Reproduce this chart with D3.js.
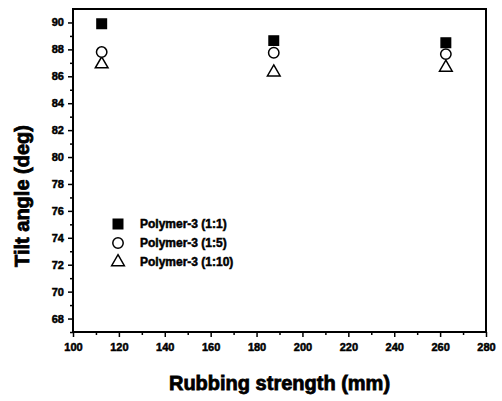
<!DOCTYPE html>
<html>
<head>
<meta charset="utf-8">
<script src="https://cdn.jsdelivr.net/npm/d3@7"></script>
<style>
  body { margin: 0; background: #fff; }
  text { font-family: "Liberation Sans", Arial, sans-serif; font-weight: bold; }
</style>
</head>
<body>
<svg width="502" height="401"></svg>
<script>
// data
var rubbing = [112.5, 187.5, 262.5];
var ratio11 = [89.9, 88.65, 88.5];
var ratio15 = [87.8, 87.75, 87.65];
var ratio110 = [86.9, 86.3, 86.65];
var seriesNames = ['Polymer-3 (1:1)', 'Polymer-3 (1:5)', 'Polymer-3 (1:10)'];
var xTicks = [100, 120, 140, 160, 180, 200, 220, 240, 260, 280];
var yTicks = [68, 70, 72, 74, 76, 78, 80, 82, 84, 86, 88, 90];

var svg = d3.select("svg");
// plot box (window.top is reserved, so use other names)
var pLeft = 73, pRight = 486, pTop = 9, pBottom = 332;

var x = d3.scaleLinear().domain([100, 280]).range([pLeft, pRight]);
var y = d3.scaleLinear().domain([67, 91]).range([pBottom, pTop]);

// minor ticks
var xMinor = d3.range(110, 280, 20);
var yMinor = d3.range(67, 91, 2);

svg.append("g").attr("transform", "translate(0," + pBottom + ")")
    .call(d3.axisBottom(x).tickValues(xMinor).tickSize(3).tickFormat(""))
    .call(g => g.select(".domain").remove());
svg.append("g").attr("transform", "translate(" + pLeft + ",0)")
    .call(d3.axisLeft(y).tickValues(yMinor).tickSize(3).tickFormat(""))
    .call(g => g.select(".domain").remove());

var xAxis = svg.append("g").attr("transform", "translate(0," + pBottom + ")")
    .call(d3.axisBottom(x).tickValues(xTicks).tickSize(5).tickPadding(6));
var yAxis = svg.append("g").attr("transform", "translate(" + pLeft + ",0)")
    .call(d3.axisLeft(y).tickValues(yTicks).tickSize(5).tickPadding(4));

[xAxis, yAxis].forEach(function(g) {
    g.selectAll("text").style("font-size", "11px").attr("fill", "#000")
        .attr("stroke", "#000").attr("stroke-width", 0.5)
        .style("font-family", "'Liberation Sans', Arial, sans-serif").style("font-weight", "bold");
    g.select(".domain").remove();
});
svg.selectAll(".tick line").attr("stroke", "#000").attr("stroke-width", 1.5);

// frame
svg.append("rect")
    .attr("x", pLeft).attr("y", pTop)
    .attr("width", pRight - pLeft).attr("height", pBottom - pTop)
    .attr("fill", "none").attr("stroke", "#000").attr("stroke-width", 2);

// markers
var symSquare = d3.symbol().type(d3.symbolSquare).size(90);
var symCircle = d3.symbol().type(d3.symbolCircle).size(85);
var symTri = d3.symbol().type(d3.symbolTriangle).size(70);

function drawSeries(vals, sym, fill) {
    svg.append("g").selectAll("path")
        .data(vals)
        .enter().append("path")
        .attr("d", sym)
        .attr("transform", function(d, i) { return "translate(" + x(rubbing[i]) + "," + y(d) + ")"; })
        .attr("fill", fill)
        .attr("stroke", "#000")
        .attr("stroke-width", 1.5);
}
drawSeries(ratio110, symTri, "#fff");
drawSeries(ratio15, symCircle, "#fff");
drawSeries(ratio11, symSquare, "#000");

// legend
var legSyms = [symSquare, symCircle, symTri];
var legFill = ["#000", "#fff", "#fff"];
var leg = svg.append("g");
seriesNames.forEach(function(name, i) {
    var ly = 224 + i * 19;
    leg.append("path").attr("d", legSyms[i])
        .attr("transform", "translate(118," + ly + ")")
        .attr("fill", legFill[i]).attr("stroke", "#000").attr("stroke-width", 1.5);
    leg.append("text").attr("x", 140).attr("y", ly + 4)
        .attr("stroke", "#000").attr("stroke-width", 0.5)
        .style("font-size", "12px").text(name);
});

// titles
svg.append("text")
    .attr("x", (pLeft + pRight) / 2).attr("y", 390)
    .attr("text-anchor", "middle")
    .attr("stroke", "#000").attr("stroke-width", 0.8)
    .style("font-size", "20px")
    .text("Rubbing strength (mm)");

svg.append("text")
    .attr("transform", "translate(29,196) rotate(-90)")
    .attr("text-anchor", "middle")
    .attr("stroke", "#000").attr("stroke-width", 0.8)
    .style("font-size", "20px")
    .text("Tilt angle (deg)");
</script>
</body>
</html>
